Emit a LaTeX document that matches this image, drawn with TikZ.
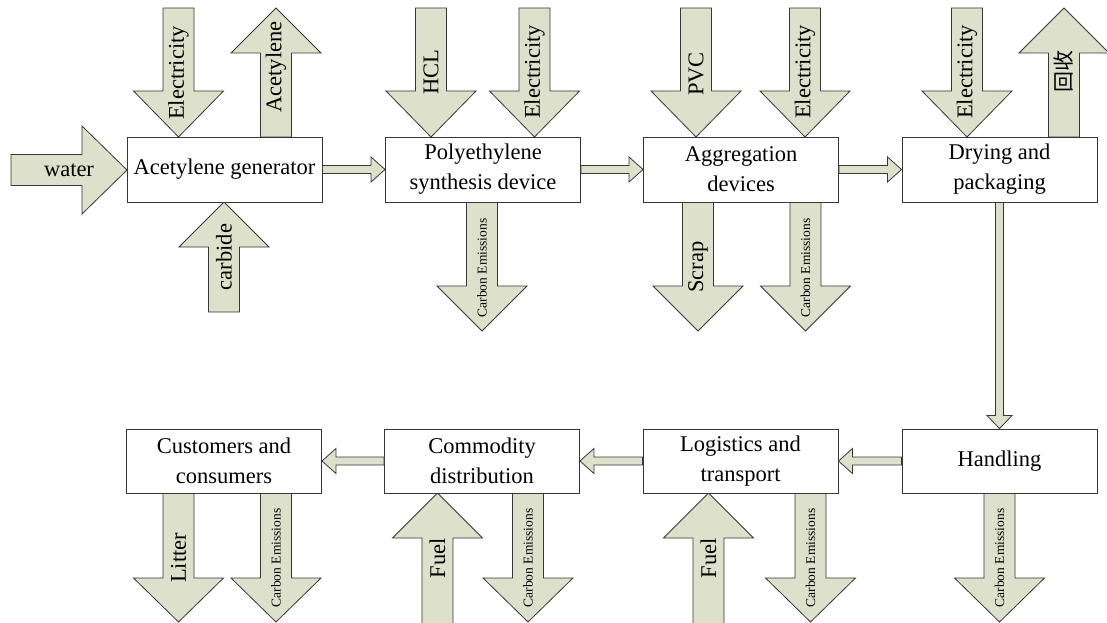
\documentclass[tikz,border=0pt]{standalone}
\usepackage{fontspec}
\setmainfont{Liberation Serif}
\newfontfamily\cjk{Noto Sans CJK SC}
\usetikzlibrary{calc}
\definecolor{arrfill}{RGB}{221,224,202}
\definecolor{edge}{RGB}{55,55,55}
\newcommand\vba[4]{\draw[blk] (#1-15.5,#2) -- (#1-15.5,#3) -- (#1-45,#3) -- (#1,#4) -- (#1+45,#3) -- (#1+15.5,#3) -- (#1+15.5,#2) -- cycle;}
\newcommand\hba[4]{\draw[blk] (#2,#1-15.5) -- (#3,#1-15.5) -- (#3,#1-44) -- (#4,#1) -- (#3,#1+44) -- (#3,#1+15.5) -- (#2,#1+15.5) -- cycle;}
\newcommand\rconn[2]{\draw[blk] let \p1=(#1.east), \p2=(#2.west) in (\x1,\y1+4pt) -- (\x2-14pt,\y1+4pt) -- (\x2-14pt,\y1+12.5pt) -- (\x2,\y1) -- (\x2-14pt,\y1-12.5pt) -- (\x2-14pt,\y1-4pt) -- (\x1,\y1-4pt) -- cycle;}
\newcommand\lconn[2]{\draw[blk] let \p1=(#1.west), \p2=(#2.east) in (\x1,\y1+4pt) -- (\x2+14pt,\y1+4pt) -- (\x2+14pt,\y1+12.5pt) -- (\x2,\y1) -- (\x2+14pt,\y1-12.5pt) -- (\x2+14pt,\y1-4pt) -- (\x1,\y1-4pt) -- cycle;}
\newcommand\dconn[2]{\draw[blk] let \p1=(#1.south), \p2=(#2.north) in (\x1-4pt,\y1) -- (\x1-4pt,\y2+13pt) -- (\x1-12.5pt,\y2+13pt) -- (\x1,\y2) -- (\x1+12.5pt,\y2+13pt) -- (\x1+4pt,\y2+13pt) -- (\x1+4pt,\y1) -- cycle;}
\begin{document}
\begin{tikzpicture}[x=1pt,y=-1pt,
  box/.style={draw=edge,fill=white,line width=0.9pt,minimum width=195pt,minimum height=65pt,inner sep=0pt,align=center,font=\fontsize{22.5}{30}\selectfont},
  blk/.style={fill=arrfill,draw=edge,line width=0.8pt,line join=miter},
  lbl/.style={inner sep=0pt,font=\fontsize{22.5}{27}\selectfont},
  sml/.style={inner sep=0pt,font=\fontsize{13.5}{16}\selectfont}]
\useasboundingbox (0,0) rectangle (1107,623);
% block arrows, row 1
\vba{178.5}{8}{91}{137}
\vba{276}{137}{53}{8}
\hba{170}{11}{82}{127}
\vba{224}{312}{247}{202}
\vba{431}{8}{91}{137}
\vba{534.5}{8}{91}{137}
\vba{482}{202}{286}{331}
\vba{696}{8}{91}{137}
\vba{805}{8}{91}{137}
\vba{698}{202}{286}{331}
\vba{805.5}{202}{286}{331}
\vba{967}{8}{91}{137}
\vba{1064}{137}{53}{8}
% block arrows, row 2
\vba{178.5}{493}{578}{622}
\vba{276}{493}{578}{622}
\vba{437.5}{626}{538}{493}
\vba{528}{493}{578}{622}
\vba{708.5}{626}{538}{493}
\vba{810.5}{493}{578}{622}
\vba{999.5}{493}{578}{622}
% labels
\node[lbl,rotate=90] (l1) at (178.5,73) {Electricity};
\node[lbl,rotate=90] (l2) at (276,67) {Acetylene};
\node[lbl] (l3) at (69,170) {water};
\node[lbl,rotate=90] (l4) at (224,257) {carbide};
\node[lbl,rotate=90] (l5) at (431,72) {HCL};
\node[lbl,rotate=90] (l6) at (534.5,72) {Electricity};
\node[sml,rotate=90] (l7) at (482,268) {Carbon Emissions};
\node[lbl,rotate=90] (l8) at (696,74) {PVC};
\node[lbl,rotate=90] (l9) at (805,72) {Electricity};
\node[lbl,rotate=90] (l10) at (698,267) {Scrap};
\node[sml,rotate=90] (l11) at (805.5,268) {Carbon Emissions};
\node[lbl,rotate=90] (l12) at (967,72) {Electricity};
\node[lbl,rotate=90,font=\cjk\fontsize{21}{24}\selectfont] (l13) at (1064,72) {回收};
\node[lbl,rotate=90] (l14) at (178.5,558) {Litter};
\node[sml,rotate=90] (l15) at (276,558) {Carbon Emissions};
\node[lbl,rotate=90] (l16) at (437.5,558) {Fuel};
\node[sml,rotate=90] (l17) at (528,558) {Carbon Emissions};
\node[lbl,rotate=90] (l18) at (708.5,558) {Fuel};
\node[sml,rotate=90] (l19) at (810.5,558) {Carbon Emissions};
\node[sml,rotate=90] (l20) at (999.5,558) {Carbon Emissions};
% boxes
\node[box] (A) at (224.5,169.5) {Acetylene generator};
\node[box] (P) at (483,169.5) {Polyethylene\\synthesis device};
\node[box] (G) at (741,169.5) {Aggregation\\devices};
\node[box] (D) at (999.5,169.5) {Drying and\\packaging};
\node[box,minimum height=64pt] (Cu) at (224,461) {Customers and\\consumers};
\node[box,minimum height=64pt] (Co) at (482,461) {Commodity\\distribution};
\node[box,minimum height=64pt] (L) at (740.5,461) {Logistics and\\transport};
\node[box,minimum height=64pt] (H) at (999.5,461) {Handling};
% connectors
\rconn{A}{P}
\rconn{P}{G}
\rconn{G}{D}
\dconn{D}{H}
\lconn{H}{L}
\lconn{L}{Co}
\lconn{Co}{Cu}
\end{tikzpicture}
\end{document}
